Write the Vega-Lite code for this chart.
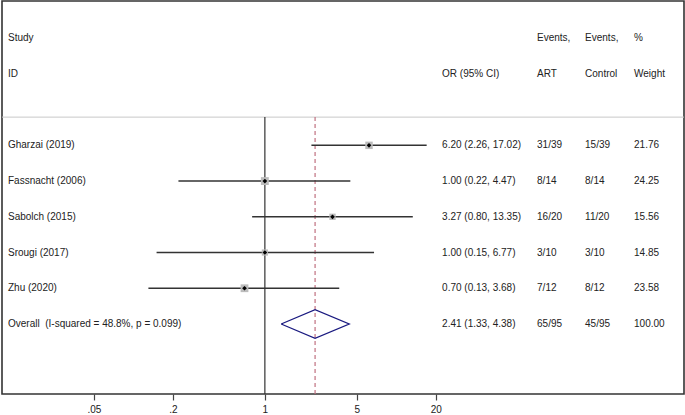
{
  "$schema": "https://vega.github.io/schema/vega-lite/v6.json",
  "width": 682,
  "height": 393,
  "autosize": "none",
  "padding": {"left": 2, "top": 1, "right": 1, "bottom": 21},
  "background": "white",
  "config": {
    "view": {"stroke": "#333333", "strokeWidth": 1.6},
    "text": {"font": "Liberation Sans", "fontSize": 10, "color": "#222222"}
  },
  "datasets": {
    "rows": [
      {"kind": "head", "row": -2, "study": "Study", "ci": "", "art": "Events,", "ctl": "Events,", "wt": "%"},
      {"kind": "head", "row": -1, "study": "ID", "ci": "OR (95% CI)", "art": "ART", "ctl": "Control", "wt": "Weight"},
      {"kind": "study", "row": 1, "study": "Gharzai (2019)", "or": 6.20, "lo": 2.26, "hi": 17.02, "ci": "6.20 (2.26, 17.02)", "art": "31/39", "ctl": "15/39", "w": 21.76, "wt": "21.76"},
      {"kind": "study", "row": 2, "study": "Fassnacht (2006)", "or": 1.00, "lo": 0.22, "hi": 4.47, "ci": "1.00 (0.22, 4.47)", "art": "8/14", "ctl": "8/14", "w": 24.25, "wt": "24.25"},
      {"kind": "study", "row": 3, "study": "Sabolch (2015)", "or": 3.27, "lo": 0.80, "hi": 13.35, "ci": "3.27 (0.80, 13.35)", "art": "16/20", "ctl": "11/20", "w": 15.56, "wt": "15.56"},
      {"kind": "study", "row": 4, "study": "Srougi (2017)", "or": 1.00, "lo": 0.15, "hi": 6.77, "ci": "1.00 (0.15, 6.77)", "art": "3/10", "ctl": "3/10", "w": 14.85, "wt": "14.85"},
      {"kind": "study", "row": 5, "study": "Zhu (2020)", "or": 0.70, "lo": 0.13, "hi": 3.68, "ci": "0.70 (0.13, 3.68)", "art": "7/12", "ctl": "8/12", "w": 23.58, "wt": "23.58"},
      {"kind": "overall", "row": 6, "study": "Overall\u00a0 (I-squared = 48.8%, p = 0.099)", "or": 2.41, "lo": 1.33, "hi": 4.38, "ci": "2.41 (1.33, 4.38)", "art": "65/95", "ctl": "45/95", "w": 100, "wt": "100.00"}
    ],
    "diamond": [
      {"o": 1, "x": 1.33, "y": 6},
      {"o": 2, "x": 2.41, "y": 5.6},
      {"o": 3, "x": 4.38, "y": 6},
      {"o": 4, "x": 2.41, "y": 6.4},
      {"o": 5, "x": 1.33, "y": 6}
    ]
  },
  "layer": [
    {
      "data": {"values": [{}]},
      "mark": {"type": "rule", "color": "#c8c8c8", "strokeWidth": 1},
      "encoding": {
        "y": {"datum": 0.21, "type": "quantitative", "scale": {"domain": [-3.04, 7.96], "reverse": true, "nice": false, "zero": false}, "axis": null}
      }
    },
    {
      "data": {"values": [{}]},
      "mark": {"type": "rule", "color": "#333333", "strokeWidth": 1.2},
      "encoding": {
        "x": {"datum": 1, "type": "quantitative", "scale": {"type": "log", "domain": [0.01, 1545], "nice": false},
          "axis": {"values": [0.05, 0.2, 1, 5, 20], "grid": false, "domain": false, "tickColor": "#444444", "tickWidth": 1.2, "tickSize": 6, "labelFont": "Liberation Sans", "labelFontSize": 10, "labelColor": "#222222", "labelPadding": 4, "title": null,
            "labelExpr": "datum.value == 0.05 ? '.05' : datum.value == 0.2 ? '.2' : datum.label"}},
        "y": {"datum": 0.21, "type": "quantitative"},
        "y2": {"datum": 7.96}
      }
    },
    {
      "data": {"name": "rows"},
      "transform": [{"filter": "datum.kind == 'overall'"}],
      "mark": {"type": "rule", "color": "#c07080", "strokeWidth": 1.2, "strokeDash": [4, 3]},
      "encoding": {
        "x": {"field": "or", "type": "quantitative"},
        "y": {"datum": 0.21, "type": "quantitative"},
        "y2": {"datum": 7.96}
      }
    },
    {
      "data": {"name": "rows"},
      "transform": [{"filter": "datum.kind == 'study'"}],
      "mark": {"type": "rule", "color": "#333333", "strokeWidth": 1.5},
      "encoding": {
        "x": {"field": "lo", "type": "quantitative"},
        "x2": {"field": "hi"},
        "y": {"field": "row", "type": "quantitative"}
      }
    },
    {
      "data": {"name": "rows"},
      "transform": [{"filter": "datum.kind == 'study'"}],
      "mark": {"type": "point", "shape": "square", "filled": true, "color": "#bcbcbc", "opacity": 1},
      "encoding": {
        "x": {"field": "or", "type": "quantitative"},
        "y": {"field": "row", "type": "quantitative"},
        "size": {"field": "w", "type": "quantitative", "scale": {"domain": [0, 25], "range": [0, 64], "zero": true}, "legend": null}
      }
    },
    {
      "data": {"name": "rows"},
      "transform": [{"filter": "datum.kind == 'study'"}],
      "mark": {"type": "point", "shape": "diamond", "filled": true, "color": "#000000", "size": 22, "opacity": 1},
      "encoding": {
        "x": {"field": "or", "type": "quantitative"},
        "y": {"field": "row", "type": "quantitative"}
      }
    },
    {
      "data": {"name": "diamond"},
      "mark": {"type": "line", "color": "#1a1a80", "strokeWidth": 1.3},
      "encoding": {
        "x": {"field": "x", "type": "quantitative"},
        "y": {"field": "y", "type": "quantitative"},
        "order": {"field": "o"}
      }
    },
    {
      "data": {"name": "rows"},
      "mark": {"type": "text", "align": "left", "baseline": "middle"},
      "encoding": {
        "x": {"datum": 0.0111, "type": "quantitative"},
        "y": {"field": "row", "type": "quantitative"},
        "text": {"field": "study"}
      }
    },
    {
      "data": {"name": "rows"},
      "mark": {"type": "text", "align": "left", "baseline": "middle"},
      "encoding": {
        "x": {"datum": 22.3, "type": "quantitative"},
        "y": {"field": "row", "type": "quantitative"},
        "text": {"field": "ci"}
      }
    },
    {
      "data": {"name": "rows"},
      "mark": {"type": "text", "align": "left", "baseline": "middle"},
      "encoding": {
        "x": {"datum": 117.7, "type": "quantitative"},
        "y": {"field": "row", "type": "quantitative"},
        "text": {"field": "art"}
      }
    },
    {
      "data": {"name": "rows"},
      "mark": {"type": "text", "align": "left", "baseline": "middle"},
      "encoding": {
        "x": {"datum": 273, "type": "quantitative"},
        "y": {"field": "row", "type": "quantitative"},
        "text": {"field": "ctl"}
      }
    },
    {
      "data": {"name": "rows"},
      "mark": {"type": "text", "align": "left", "baseline": "middle"},
      "encoding": {
        "x": {"datum": 644, "type": "quantitative"},
        "y": {"field": "row", "type": "quantitative"},
        "text": {"field": "wt"}
      }
    }
  ]
}
